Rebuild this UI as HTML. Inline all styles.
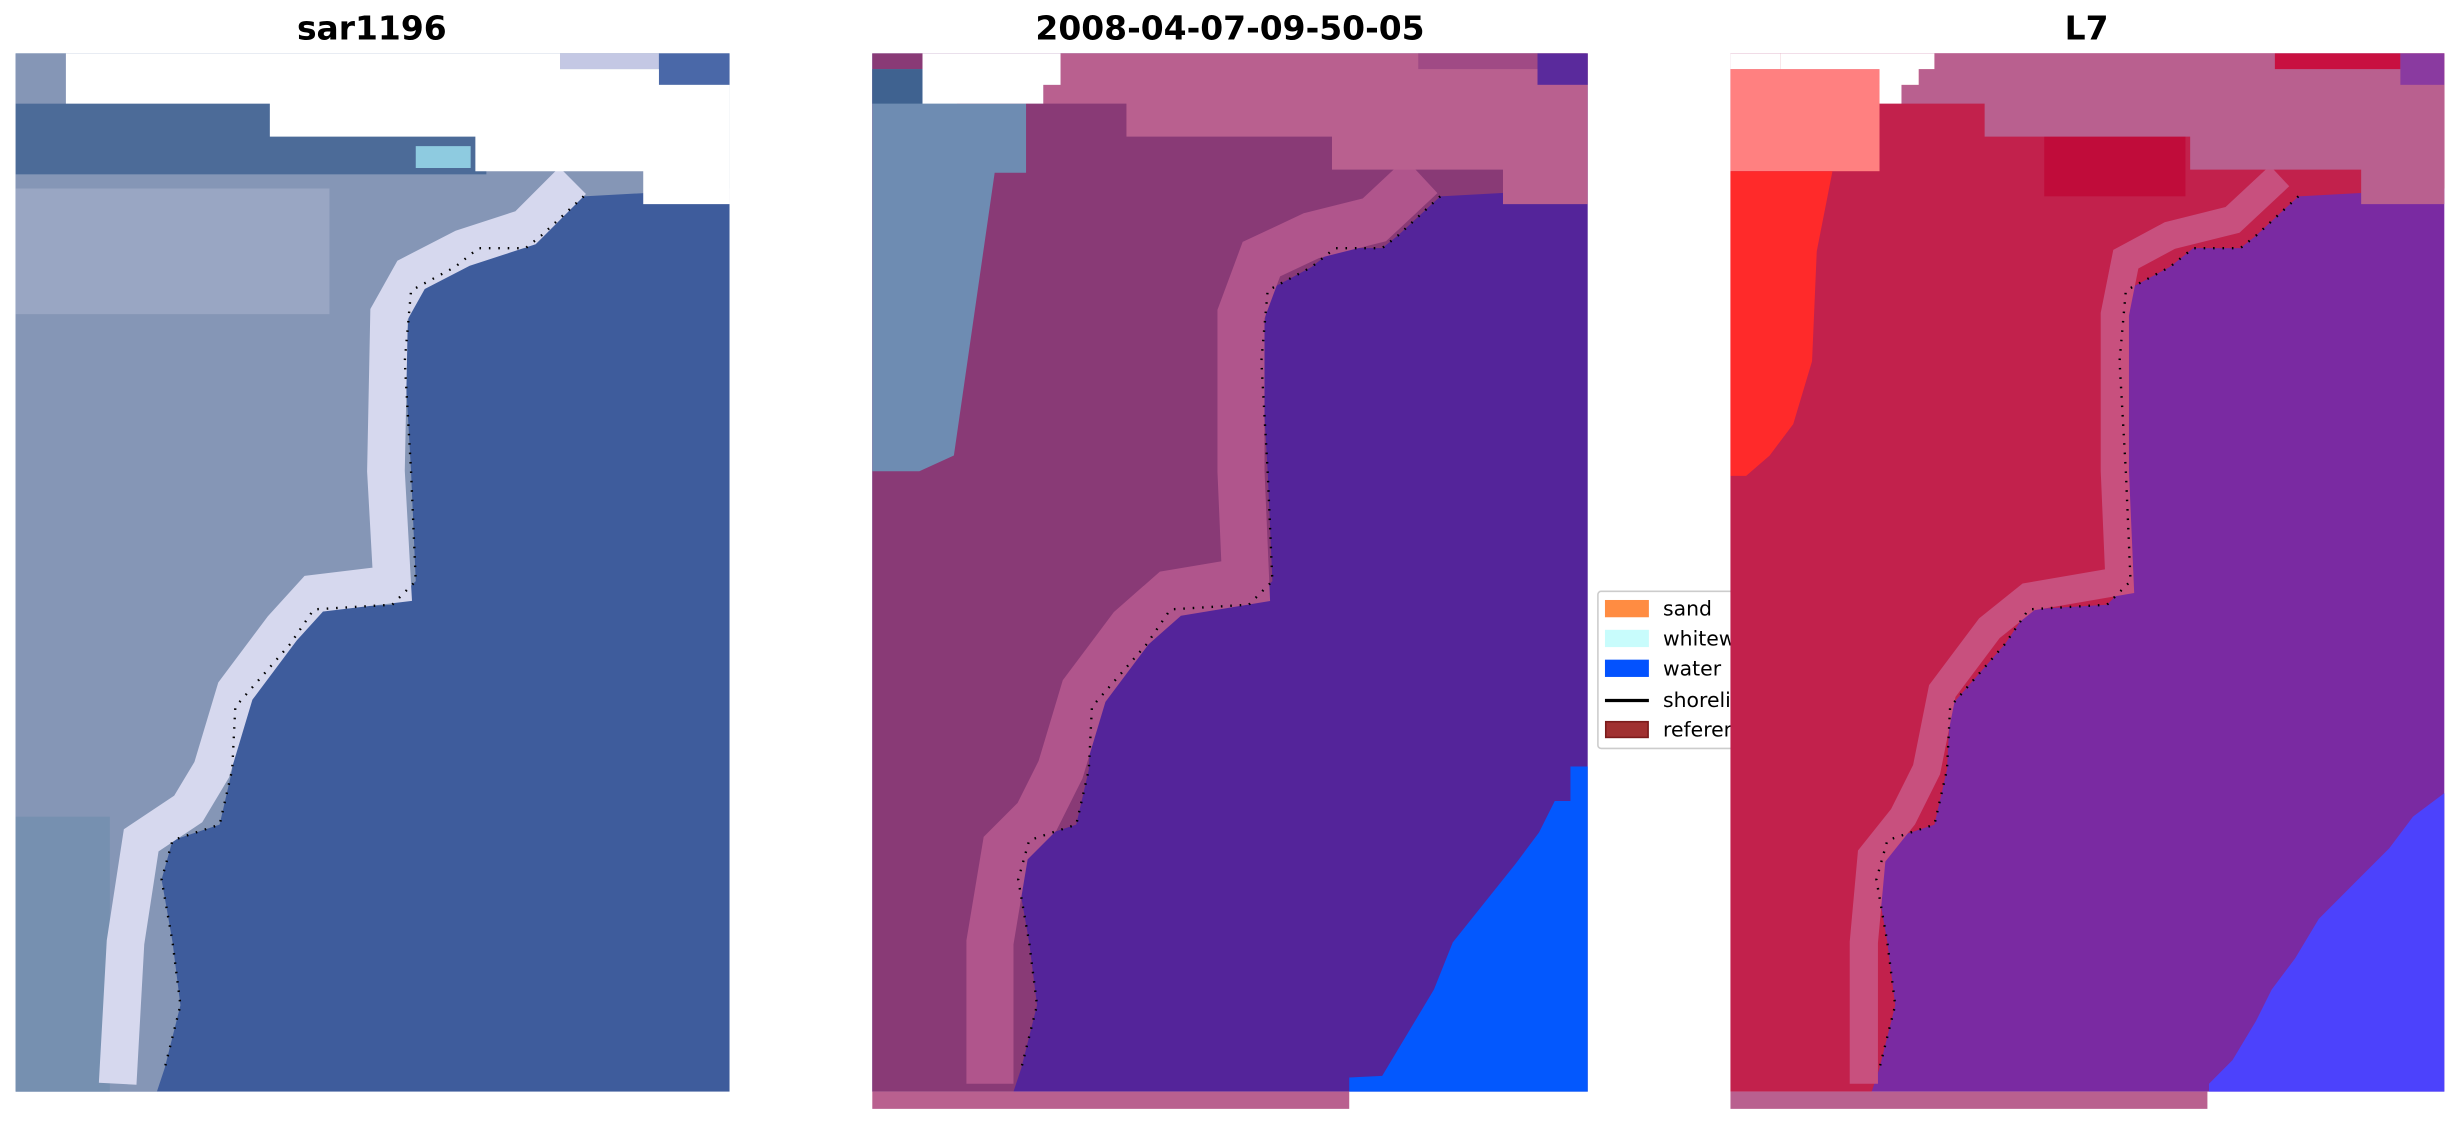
<!DOCTYPE html>
<html><head><meta charset="utf-8"><style>
html,body{margin:0;padding:0;background:#fff;}
svg{display:block;}
text{font-family:"DejaVu Sans","Liberation Sans",sans-serif;font-weight:bold;font-size:21px;text-anchor:middle;}
</style></head><body>
<svg width="2460" height="1123" viewBox="0 0 1568 715" preserveAspectRatio="none" xmlns="http://www.w3.org/2000/svg">
<defs>
<polyline id="shore" points="372,125 345,150 335,158 305,158 290,170 262,185 258,230 262,300 265,370 250,385 200,388 185,410 150,450 148,490 140,525 110,535 103,560 110,600 115,640 105,680" fill="none"/>
<polygon id="land" points="10,34 465,34 465,120 372,125 345,150 335,158 305,158 290,170 262,185 258,230 262,300 265,370 250,385 200,388 185,410 150,450 148,490 140,525 110,535 103,560 110,600 115,640 105,680 100,695 10,695"/>
</defs>
<text x="237" y="25">sar1196</text>
<text x="784" y="25">2008-04-07-09-50-05</text>
<text x="1330" y="25">L7</text>

<!-- Panel 1 -->
<g>
<rect x="10" y="34" width="455" height="661" fill="#3e5c9c"/>
<use href="#land" fill="#8596b6"/>
<rect x="10" y="66" width="300" height="45" fill="#4c6b98"/>
<rect x="10" y="520" width="60" height="175" fill="#7690b0"/>
<rect x="10" y="120" width="200" height="80" fill="#a6b0cc" opacity="0.6"/>
<polyline points="365,115 335,145 295,158 262,175 248,200 246,300 250,372 200,378 180,400 150,440 135,490 120,515 90,535 80,600 75,690" fill="none" stroke="#d6d8ee" stroke-width="24"/>
<polyline points="300,100 265,100" stroke="#8ecbe0" stroke-width="14"/>
<rect x="357" y="34" width="63" height="10" fill="#c4c8e4"/>
<rect x="420" y="34" width="45" height="20" fill="#4a68a8"/>
<polygon points="42,34 357,34 357,44 420,44 420,54 465,54 465,130 410,130 410,109 303,109 303,87 172,87 172,66 42,66" fill="#fff"/>
<use href="#shore" stroke="#000" stroke-width="1.5" stroke-dasharray="1,5"/>
</g>

<!-- Panel 2 -->
<g transform="translate(546,0)">
<rect x="10" y="34" width="456" height="661" fill="#54249a"/>
<use href="#land" fill="#893a76"/>
<polyline points="360,112 330,140 290,150 258,165 245,200 245,300 248,370 200,378 175,400 145,440 130,490 115,520 95,540 85,600 85,690" fill="none" stroke="#b0558c" stroke-width="30"/>
<polygon points="10,44 64,44 64,66 108,66 108,110 88,110 75,200 62,290 40,300 10,300" fill="#6e8cb2"/>
<polygon points="10,44 42,44 42,66 10,66" fill="#3f6290"/>
<polygon points="130,34 466,34 466,130 412,130 412,108 303,108 303,87 172,87 172,66 119,66 119,54 130,54" fill="#b9608f"/>
<rect x="434" y="34" width="32" height="20" fill="#5a2a9c"/>
<rect x="358" y="34" width="76" height="10" fill="#a04a85"/>
<polygon points="42,34 130,34 130,54 119,54 119,66 42,66" fill="#fff"/>
<polygon points="466,488 455,488 455,510 445,510 435,530 420,550 400,575 380,600 368,630 350,660 335,685 314,686 314,695 466,695" fill="#0358fe"/>
<rect x="10" y="695" width="304" height="11" fill="#b9608f"/>
<use href="#shore" stroke="#000" stroke-width="1.5" stroke-dasharray="1,5"/>
</g>

<!-- Legend (drawn before panel 3 so it is clipped) -->
<g>
<rect x="1018.5" y="376.5" width="90" height="100" rx="2" fill="#fff" stroke="#ccc" stroke-width="1"/>
<rect x="1023" y="382" width="28" height="11" fill="#ff8c42"/>
<rect x="1023" y="401" width="28" height="11" fill="#c8fcfc"/>
<rect x="1023" y="420" width="28" height="11" fill="#0352fe"/>
<line x1="1023" y1="446" x2="1051" y2="446" stroke="#000" stroke-width="2"/>
<rect x="1023.5" y="459.5" width="27" height="10" fill="#a03030" stroke="#7a1a1a"/>
<text x="1060" y="392" style="font-weight:normal;font-size:13px;text-anchor:start">sand</text>
<text x="1060" y="411" style="font-weight:normal;font-size:13px;text-anchor:start">whitewater</text>
<text x="1060" y="430" style="font-weight:normal;font-size:13px;text-anchor:start">water</text>
<text x="1060" y="450" style="font-weight:normal;font-size:13px;text-anchor:start">shoreline</text>
<text x="1060" y="469" style="font-weight:normal;font-size:13px;text-anchor:start">reference</text>
</g>

<!-- Panel 3 -->
<g transform="translate(1093,0)">
<rect x="10" y="34" width="455" height="661" fill="#7a2aa2"/>
<use href="#land" fill="#c2214c"/>
<polyline points="360,112 330,140 290,150 262,165 255,200 255,300 258,370 200,380 175,400 145,440 135,490 120,520 100,545 95,600 95,690" fill="none" stroke="#c8507e" stroke-width="18"/>
<rect x="10" y="44" width="95" height="65" fill="#ff8080"/>
<polygon points="10,109 75,109 65,160 62,230 50,270 35,290 20,303 10,303" fill="#ff2a2a"/>
<rect x="210" y="85" width="90" height="40" fill="#c00c3a"/>
<polygon points="140,34 465,34 465,130 412,130 412,108 303,108 303,87 172,87 172,66 119,66 119,54 130,54 130,44 140,44" fill="#b9608f"/>
<rect x="357" y="34" width="80" height="10" fill="#c81040"/>
<rect x="437" y="34" width="28" height="20" fill="#8a3aa0"/>
<polygon points="10,34 140,34 140,44 130,44 130,54 119,54 119,66 105,66 105,44 42,44 42,34" fill="#fff"/>
<rect x="10" y="34" width="32" height="10" fill="#fff"/>
<polygon points="465,505 445,520 430,540 410,560 385,585 370,610 355,630 345,650 330,675 315,690 315,695 465,695" fill="#4c42fc"/>
<rect x="10" y="695" width="304" height="11" fill="#b9608f"/>
<use href="#shore" stroke="#000" stroke-width="1.5" stroke-dasharray="1,5"/>
</g>
</svg>
</body></html>
